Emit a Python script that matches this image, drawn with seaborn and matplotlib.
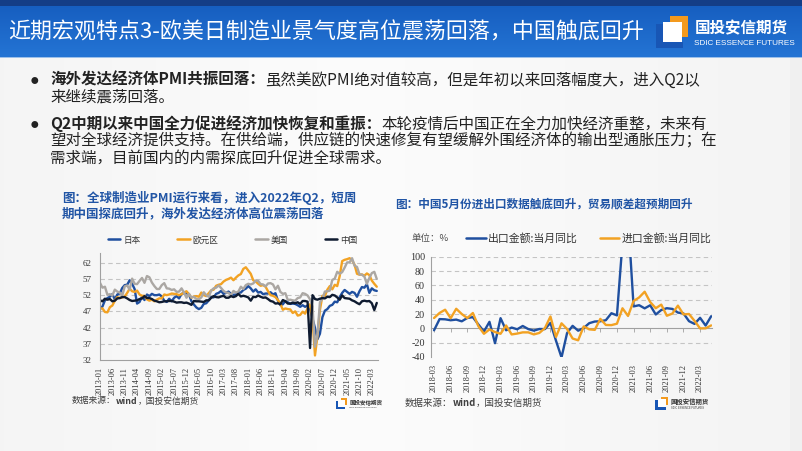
import numpy as np
import pandas as pd
import matplotlib
matplotlib.use('Agg')
import matplotlib.pyplot as plt
import seaborn as sns
from matplotlib.patches import Rectangle

# ---------------- data ----------------
pmi_start, pmi_end = '2013-01', '2022-05'
japan = [47.7, 48.5, 50.4, 51.1, 51.5, 52.3, 50.7, 52.2, 52.5, 54.2, 55.1, 55.2,
         56.6, 55.5, 53.9, 49.4, 49.9, 51.5, 50.5, 52.2, 51.7, 52.4, 52.0, 52.0,
         52.2, 51.6, 50.3, 49.9, 50.9, 50.1, 51.2, 51.7, 51.0, 52.4, 52.6, 52.6,
         52.3, 50.1, 49.1, 48.2, 47.7, 48.1, 49.3, 49.5, 50.4, 51.4, 51.3, 52.4,
         52.7, 53.3, 52.4, 52.7, 53.1, 52.4, 52.1, 52.2, 52.9, 52.8, 53.6, 54.0,
         54.8, 54.1, 53.1, 53.8, 52.8, 53.0, 52.3, 52.5, 52.5, 52.9, 52.2, 52.6,
         50.3, 48.9, 49.2, 50.2, 49.8, 49.3, 49.4, 49.3, 48.9, 48.4, 48.9, 48.4,
         48.8, 47.8, 44.8, 41.9, 38.4, 40.1, 45.2, 47.2, 47.7, 48.7, 49.0, 50.0,
         49.8, 51.4, 52.7, 53.6, 53.0, 52.4, 53.0, 52.7, 51.5, 53.2, 54.5, 54.3,
         55.4, 52.7, 54.1, 53.5, 53.3]
eurozone = [47.9, 47.9, 46.8, 46.7, 48.3, 48.8, 50.3, 51.4, 51.1, 51.3, 51.6, 52.7,
            54.0, 53.2, 53.0, 53.4, 52.2, 51.8, 51.8, 50.7, 50.3, 50.6, 50.1, 50.6,
            51.0, 51.0, 52.2, 52.0, 52.2, 52.5, 52.4, 52.3, 52.0, 52.3, 52.8, 53.2,
            52.3, 51.2, 51.6, 51.7, 51.5, 52.8, 52.0, 51.7, 52.6, 53.5, 53.7, 54.9,
            55.2, 55.4, 56.2, 56.7, 57.0, 57.4, 56.6, 57.4, 58.1, 58.5, 60.1, 60.6,
            59.6, 58.6, 56.6, 56.2, 55.5, 54.9, 55.1, 54.6, 53.2, 52.0, 51.8, 51.4,
            50.5, 49.3, 47.5, 47.9, 47.7, 47.6, 46.5, 47.0, 45.7, 45.9, 46.9, 46.3,
            47.9, 49.2, 44.5, 33.4, 39.4, 47.4, 51.8, 51.7, 53.7, 54.8, 53.8, 55.2,
            54.8, 57.9, 62.5, 62.9, 63.1, 63.4, 62.8, 61.4, 58.6, 58.3, 58.4, 58.0,
            58.7, 58.2, 56.5, 55.5, 54.6]
usa = [55.8, 54.3, 54.6, 52.1, 52.3, 51.9, 53.7, 53.1, 52.8, 51.8, 54.7, 55.0,
       53.7, 57.1, 55.5, 55.4, 56.4, 57.3, 55.8, 57.9, 57.5, 55.9, 54.8, 53.9,
       53.9, 55.1, 55.7, 54.1, 54.0, 53.6, 53.8, 53.0, 53.1, 54.1, 52.8, 51.2,
       52.4, 51.3, 51.5, 50.8, 50.7, 51.3, 52.9, 52.0, 51.5, 53.4, 54.1, 54.3,
       55.0, 54.2, 53.3, 52.8, 52.7, 52.0, 53.3, 52.8, 53.1, 54.6, 53.9, 55.1,
       55.5, 55.3, 55.6, 56.5, 56.4, 55.4, 55.3, 54.7, 55.6, 55.7, 55.3, 53.8,
       54.9, 53.0, 52.4, 52.6, 50.5, 50.6, 50.4, 50.3, 51.1, 51.3, 52.6, 52.4,
       51.9, 50.7, 48.5, 36.1, 39.8, 49.8, 50.9, 53.1, 53.2, 53.4, 56.7, 57.1,
       59.2, 58.6, 59.1, 60.5, 62.1, 62.1, 63.4, 61.1, 60.7, 58.4, 58.3, 57.7,
       55.5, 57.3, 58.8, 59.2, 57.0]
china = [50.4, 50.1, 50.9, 50.6, 50.8, 50.1, 50.3, 51.0, 51.1, 51.4, 51.4, 51.0,
         50.5, 50.2, 50.3, 50.4, 50.8, 51.0, 51.7, 51.1, 51.1, 50.8, 50.3, 50.1,
         49.8, 49.9, 50.1, 50.1, 50.2, 50.2, 50.0, 49.7, 49.8, 49.8, 49.6, 49.7,
         49.4, 49.0, 50.2, 50.1, 50.1, 50.0, 49.9, 50.4, 50.4, 51.2, 51.7, 51.4,
         51.3, 51.6, 51.8, 51.2, 51.2, 51.7, 51.4, 51.7, 52.4, 51.6, 51.8, 51.6,
         51.3, 50.3, 51.5, 51.4, 51.9, 51.5, 51.2, 51.3, 50.8, 50.2, 50.0, 49.4,
         49.5, 49.2, 50.5, 50.1, 49.4, 49.4, 49.7, 49.5, 49.8, 49.3, 50.2, 50.2,
         50.0, 35.7, 52.0, 50.8, 50.6, 50.9, 51.1, 51.0, 51.5, 51.4, 52.1, 51.9,
         51.3, 50.6, 51.9, 51.1, 51.0, 50.9, 50.4, 50.1, 49.6, 49.2, 50.1, 50.3,
         50.1, 50.2, 49.5, 47.4, 49.6]
pmi_series = ['日本', '欧元区', '美国', '中国']
pmi_ticks = ['2013-01', '2013-06', '2013-11', '2014-04', '2014-09', '2015-02', '2015-07',
             '2015-12', '2016-05', '2016-10', '2017-03', '2017-08', '2018-01', '2018-06',
             '2018-11', '2019-04', '2019-09', '2020-02', '2020-07', '2020-12', '2021-05',
             '2021-10', '2022-03']
pmi_yticks = [32, 37, 42, 47, 52, 57, 62]

trade_start, trade_end = '2018-03', '2022-05'
exports = [-2.7, 12.9, 12.6, 11.3, 12.2, 9.8, 14.5, 15.6, 5.4, -4.4,
           9.1, -20.7, 14.2, -2.7, 1.1, -1.3, 3.3, -1.0, -3.2, -0.9, -1.1, 7.6,
           -17.2, -40.6, -6.6, 3.5, -3.3, 0.5, 7.2, 9.5, 9.9, 11.4, 21.1, 18.1,
           120.0, 154.9, 30.6, 32.3, 27.9, 32.2, 19.3, 25.6, 28.1, 27.1, 22.0, 20.9,
           10.0, 6.2, 14.7, 3.9, 16.9]
imports = [14.4, 21.5, 26.0, 14.1, 27.3, 20.0, 14.3, 21.4, 3.0, -7.6,
           -1.5, -5.2, -7.6, 4.0, -8.5, -7.3, -5.6, -5.6, -8.5, -6.4, 0.3, 16.5,
           -12.0, 7.0, -0.9, -14.2, -16.7, 2.7, -1.4, -2.1, 13.2, 4.7, 4.5, 6.5,
           28.0, 17.3, 38.1, 43.1, 51.1, 36.7, 28.1, 33.1, 17.6, 20.6, 31.7, 19.5,
           20.0, 10.4, -0.1, 0.0, 4.1]
trade_series = ['出口金额:当月同比', '进口金额:当月同比']
trade_ticks = ['2018-03', '2018-06', '2018-09', '2018-12', '2019-03', '2019-06', '2019-09',
               '2019-12', '2020-03', '2020-06', '2020-09', '2020-12', '2021-03', '2021-06',
               '2021-09', '2021-12', '2022-03']
trade_yticks = [-40, -20, 0, 20, 40, 60, 80, 100]

title = '近期宏观特点3-欧美日制造业景气度高位震荡回落，中国触底回升'
bullets = [
    [('海外发达经济体PMI共振回落：', 'bold'), ('虽然美欧PMI绝对值较高，但是年初以来回落幅度大，进入Q2以', 'normal')],
    [('来继续震荡回落。', 'normal')],
    [('Q2中期以来中国全力促进经济加快恢复和重振：', 'bold'), ('本轮疫情后中国正在全力加快经济重整，未来有', 'normal')],
    [('望对全球经济提供支持。在供给端，供应链的快速修复有望缓解外围经济体的输出型通胀压力；在', 'normal')],
    [('需求端，目前国内的内需探底回升促进全球需求。', 'normal')],
]
cap_left = ['图：全球制造业PMI运行来看，进入2022年Q2，短周', '期中国探底回升，海外发达经济体高位震荡回落']
cap_right = '图：中国5月份进出口数据触底回升，贸易顺差超预期回升'
source = [('数据来源：', 'normal'), ('wind', 'bold'), ('，国投安信期货', 'normal')]

# ---------------- style ----------------
sns.set_theme(style='white')
plt.rcParams['font.family'] = ['Noto Sans CJK SC', 'DejaVu Sans']
plt.rcParams['axes.unicode_minus'] = False
SERIF = 'Liberation Serif'

W, H = 802, 451
fig = plt.figure(figsize=(W / 100, H / 100), dpi=100)
bg = fig.add_axes([0, 0, 1, 1], zorder=0)
bg.set_xlim(0, W)
bg.set_ylim(H, 0)
bg.axis('off')

# body background (soft horizontal gradient)
gx = np.linspace(0, 1, 200)
shade = 0.955 + 0.03 * np.exp(-((gx - 0.45) / 0.35) ** 2) - 0.015 * (gx > 0.985)
body = np.dstack([shade, shade, shade]).reshape(1, 200, 3)
bg.imshow(body, extent=(0, W, H, 57), aspect='auto', zorder=0)

# title bar
gy = np.linspace(0, 1, 60)
bar = np.zeros((60, 1, 3))
c0 = np.array([0x15, 0x5c, 0xbe]) / 255
c1 = np.array([0x24, 0x74, 0xd4]) / 255
bar[:, 0, :] = c0[None, :] * (1 - gy[:, None]) + c1[None, :] * gy[:, None]
bg.imshow(bar, extent=(0, W, 57, 0), aspect='auto', zorder=1)
bg.add_patch(Rectangle((0, 0), W, 6, color='#143d86', zorder=2, lw=0))
bg.add_patch(Rectangle((0, 56.5), W, 1.5, color='#9cc0ea', zorder=2, lw=0))
bg.text(8, 33, title, color='white', fontsize=15.8, va='center', ha='left', zorder=3)


def draw_logo(x0, y0, s, tcolor, size1, size2):
    def r(a, b, c, d, col):
        bg.add_patch(Rectangle((x0 + a * s, y0 + b * s), (c - a) * s, (d - b) * s,
                               color=col, lw=0, zorder=4))
    r(0.45, 0.0, 1.0, 0.18, '#f39a1e')
    r(0.82, 0.0, 1.0, 0.65, '#f39a1e')
    r(0.0, 0.25, 0.22, 1.0, '#1856b5')
    r(0.0, 0.80, 0.85, 1.0, '#1856b5')
    r(0.22, 0.18, 0.82, 0.80, 'white')
    bg.text(x0 + 1.2 * s, y0 + 0.38 * s, '国投安信期货', color=tcolor, fontsize=size1,
            fontweight='bold', va='center', ha='left', zorder=4)
    bg.text(x0 + 1.2 * s, y0 + 0.86 * s, 'SDIC ESSENCE FUTURES', color=tcolor, fontsize=size2,
            family='Liberation Sans', va='center', ha='left', zorder=4)


draw_logo(656, 16, 32, 'white', 11.2, 5.9)

renderer = fig.canvas.get_renderer()


def rich_line(x, y, parts, size, color):
    for txt, weight in parts:
        t = bg.text(x, y, txt, fontsize=size, fontweight=weight, color=color,
                    va='center', ha='left', zorder=3)
        x += t.get_window_extent(renderer=renderer).width


line_y = [80, 97, 124, 141, 158]
for yy, parts in zip(line_y, bullets):
    rich_line(50, yy, parts, 11.2, '#222222')
for yy in (80, 124):
    bg.text(31, yy + 0.5, '●', fontsize=5.5, color='#222222', va='center', ha='left', zorder=3)

CAPC = '#2155a5'
bg.text(62, 198, cap_left[0], fontsize=9, fontweight='bold', color=CAPC, va='center', zorder=3)
bg.text(62, 214, cap_left[1], fontsize=9, fontweight='bold', color=CAPC, va='center', zorder=3)
bg.text(395, 204, cap_right, fontsize=8.4, fontweight='bold', color=CAPC, va='center', zorder=3)
rich_line(72, 401, source, 6.3, '#404040')
rich_line(405, 403, source, 6.8, '#404040')
bg.text(412, 238, '单位：%', fontsize=6.8, color='#505050', va='center', zorder=3)
draw_logo(336, 398, 11, '#333333', 4.0, 1.6)
draw_logo(655, 397, 13, '#333333', 4.6, 1.9)

# ---------------- left chart: PMI ----------------
months1 = pd.period_range(pmi_start, pmi_end, freq='M').strftime('%Y-%m').tolist()
df1 = pd.DataFrame({'month': months1, '日本': japan, '欧元区': eurozone, '美国': usa, '中国': china})
df1['x'] = np.arange(len(df1))
long1 = df1.melt(id_vars=['month', 'x'], value_vars=pmi_series, var_name='series', value_name='value')
pal1 = {'日本': '#1f4f9f', '欧元区': '#f2a223', '美国': '#aba7a3', '中国': '#0f1b30'}

ax1 = fig.add_axes([100 / W, 1 - 360 / H, 278 / W, 107 / H], zorder=2)
ax1.set_facecolor('none')
sns.lineplot(data=long1, x='x', y='value', hue='series', hue_order=pmi_series, palette=pal1,
             linewidth=1.7, ax=ax1, legend=False)
ax1.set_xlim(0, 112.5)
ax1.set_ylim(32, 65)
ax1.set_yticks(pmi_yticks)
ax1.set_yticklabels([str(v) for v in pmi_yticks], family=SERIF, fontsize=6.5, color='#333333')
ax1.set_xticks([months1.index(m) for m in pmi_ticks])
ax1.set_xticklabels(pmi_ticks, rotation=90, family=SERIF, fontsize=6, color='#333333')
ax1.set_xlabel('')
ax1.set_ylabel('')
for yv in pmi_yticks[1:]:
    ax1.axhline(yv, color='#c4c4c4', lw=0.8, ls=(0, (4, 3)), zorder=0)
for sp in ('top', 'right'):
    ax1.spines[sp].set_visible(False)
for sp in ('left', 'bottom'):
    ax1.spines[sp].set_color('#a0a0a0')
    ax1.spines[sp].set_linewidth(0.8)
ax1.tick_params(axis='both', direction='out', length=3, width=0.6, color='#a0a0a0', pad=2)
ax1.tick_params(axis='y', pad=3)

handles1 = [plt.Line2D([], [], color=pal1[s], lw=1.8) for s in pmi_series]
fig.legend(handles1, pmi_series, loc='center left', bbox_to_anchor=(108, 240),
           bbox_transform=bg.transData, ncol=4, frameon=False, borderpad=0, borderaxespad=0,
           handlelength=1.45, handletextpad=0.3, columnspacing=4.3,
           labelcolor='#333333', prop={'size': 6.2, 'style': 'italic'})

# ---------------- right chart: trade ----------------
months2 = pd.period_range(trade_start, trade_end, freq='M').strftime('%Y-%m').tolist()
df2 = pd.DataFrame({'month': months2, trade_series[0]: exports, trade_series[1]: imports})
df2['x'] = np.arange(len(df2))
long2 = df2.melt(id_vars=['month', 'x'], value_vars=trade_series, var_name='series', value_name='value')
pal2 = {trade_series[0]: '#1f4f9f', trade_series[1]: '#f2a223'}

ax2 = fig.add_axes([431 / W, 1 - 357 / H, 281 / W, 100.3 / H], zorder=2)
ax2.set_facecolor('none')
for yv in trade_yticks:
    if yv not in (-40, 0):
        ax2.axhline(yv, color='#c4c4c4', lw=0.8, ls=(0, (4, 3)), zorder=0)
sns.lineplot(data=long2, x='x', y='value', hue='series', hue_order=trade_series, palette=pal2,
             linewidth=1.7, ax=ax2, legend=False)
ax2.set_xlim(-0.55, 50.15)
ax2.set_ylim(-40, 100)
ax2.set_yticks(trade_yticks)
ax2.set_yticklabels([str(v) for v in trade_yticks], family=SERIF, fontsize=7.3, color='#333333')
ax2.set_xticks([months2.index(m) for m in trade_ticks])
ax2.set_xticklabels(trade_ticks, rotation=90, family=SERIF, fontsize=6, color='#333333')
ax2.set_xlabel('')
ax2.set_ylabel('')
for sp in ('top', 'right', 'bottom'):
    ax2.spines[sp].set_visible(False)
ax2.spines['left'].set_color('#a0a0a0')
ax2.spines['left'].set_linewidth(0.8)
ax2.tick_params(axis='y', direction='out', length=3, width=0.6, color='#a0a0a0', pad=1.5)
ax2.tick_params(axis='x', length=0, pad=5)
sec = ax2.secondary_xaxis(40 / 140)
sec.set_xticks([months2.index(m) for m in trade_ticks])
sec.set_xticklabels([])
sec.tick_params(direction='out', length=3, width=0.6, color='#a0a0a0')
sec.spines['bottom'].set_color('#a0a0a0')
sec.spines['bottom'].set_linewidth(0.8)

handles2 = [plt.Line2D([], [], color=pal2[s], lw=1.8) for s in trade_series]
fig.legend(handles2, trade_series, loc='center left', bbox_to_anchor=(466, 238),
           bbox_transform=bg.transData, ncol=2, frameon=False, borderpad=0, borderaxespad=0,
           handlelength=1.8, handletextpad=0.25, columnspacing=2.0,
           labelcolor='#333333', prop={'size': 7.8, 'style': 'italic'})

fig.savefig('out.png', dpi=100)
